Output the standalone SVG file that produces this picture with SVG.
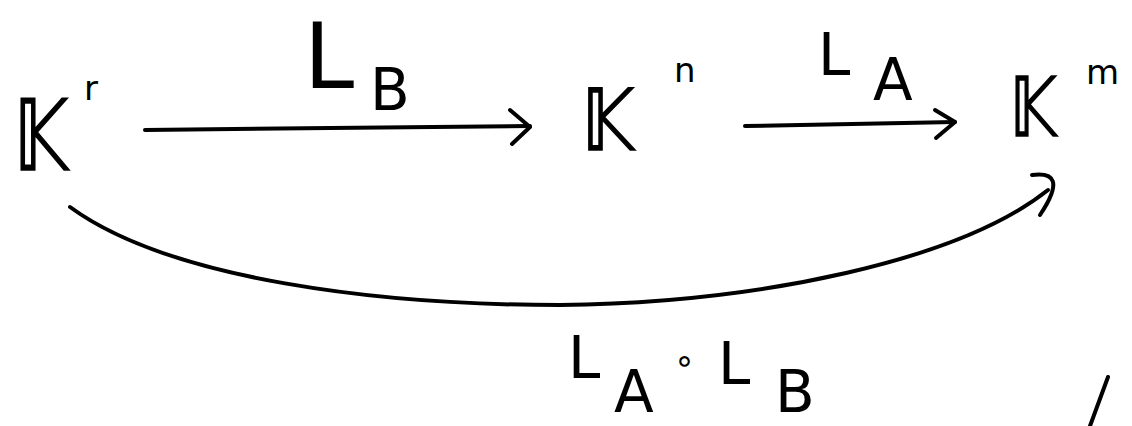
<svg xmlns="http://www.w3.org/2000/svg" width="1132" height="426" viewBox="0 0 1132 426">
<defs>
<style>
.t{font-family:"DejaVu Sans","Noto Sans",sans-serif;fill:#000}
.k{stroke:#000;stroke-width:1.5}
.sup{font-size:34px}
.lab{font-size:90px}
.sub{font-size:58px}
.ln{fill:none;stroke:#000;stroke-width:4;stroke-linecap:round;stroke-linejoin:round}
</style>
</defs>
<rect width="1132" height="426" fill="#fff"/>
<g id="node-Kr">
<text class="t k" font-size="98" transform="translate(14,170) scale(0.73,1)">𝕂</text>
<text class="t sup" x="84" y="100">r</text>
</g>
<g id="node-Kn">
<text class="t k" font-size="86" transform="translate(582,150) scale(0.8,1)">𝕂</text>
<text class="t sup" x="674" y="82">n</text>
</g>
<g id="node-Km">
<text class="t k" font-size="82" transform="translate(1010,136) scale(0.75,1)">𝕂</text>
<text class="t sup" x="1086" y="84">m</text>
</g>
<g id="connectors">
<path class="ln" d="M145,130 L330,128 L530,126"/>
<path class="ln" d="M510,110 L530,127 L512,144"/>
<path class="ln" d="M745,126 L955,122"/>
<path class="ln" d="M935,110 L955,122 L936,138"/>
<path class="ln" d="M70,207 C170,280 380,305 560,305 C760,303 960,260 1048,190"/>
<path class="ln" d="M1032,175 C1055,172 1062,182 1040,215"/>
<path class="ln" d="M1108,377 L1090,426" stroke-width="5"/>
</g>
<g id="label-LB">
<text class="t lab" x="304" y="88">L</text>
<text class="t sub" x="370" y="110">B</text>
</g>
<g id="label-LA">
<text class="t sub" x="818" y="75">L</text>
<text class="t sub" x="873" y="100">A</text>
</g>
<g id="label-LAoLB">
<text class="t sub" x="568" y="378">L</text>
<text class="t sub" x="614" y="412">A</text>
<text class="t sup" x="674" y="372">∘</text>
<text class="t sub" x="718" y="384">L</text>
<text class="t sub" x="775" y="412">B</text>
</g>
</svg>
